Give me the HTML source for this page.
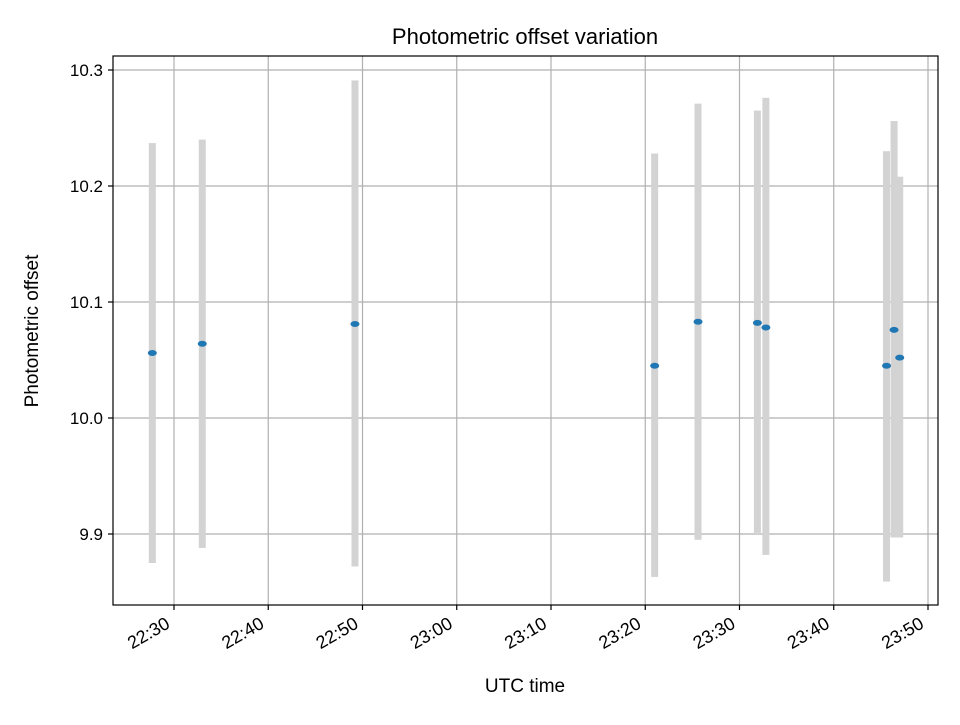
<!DOCTYPE html>
<html><head><meta charset="utf-8"><style>
body{margin:0;background:#fff;}
svg text{font-family:"Liberation Sans","DejaVu Sans",sans-serif;fill:#000;}
</style></head><body>
<svg id="chart" width="960" height="720" xmlns="http://www.w3.org/2000/svg">
<rect width="960" height="720" fill="#fff"/>
<g id="grid"></g><g id="marks"></g><g id="axes"></g>
<rect x="113" y="56" width="825" height="549" fill="none" stroke="#000" stroke-width="1.2"/>
<text x="525" y="44" font-size="22" text-anchor="middle">Photometric offset variation</text>
<text x="525" y="692" font-size="19" text-anchor="middle">UTC time</text>
<text x="38" y="331" font-size="19" text-anchor="middle" transform="rotate(-90 38 331)">Photometric offset</text>
</svg>
<script>
// time in minutes after 22:00
const times=[27.7,33.0,49.2,81.0,85.6,91.9,92.8,105.6,106.4,107.0];
const values=[10.056,10.064,10.081,10.045,10.083,10.082,10.078,10.045,10.076,10.052];
const errTop=[10.237,10.240,10.291,10.228,10.271,10.265,10.276,10.230,10.256,10.208];
const errBottom=[9.875,9.888,9.872,9.863,9.895,9.900,9.882,9.859,9.897,9.897];
const xTicks=[30,40,50,60,70,80,90,100,110];
const xTickLabels=["22:30","22:40","22:50","23:00","23:10","23:20","23:30","23:40","23:50"];
const yTicks=[9.9,10.0,10.1,10.2,10.3];
const yTickLabels=["9.9","10.0","10.1","10.2","10.3"];

const NS="http://www.w3.org/2000/svg";
function xs(m){return 174+(m-30)*(928-174)/80;}
function ys(v){return 418-(v-10.0)*1160;}
function mk(tag,attrs,parent){const e=document.createElementNS(NS,tag);for(const k in attrs)e.setAttribute(k,attrs[k]);parent.appendChild(e);return e;}
const grid=document.getElementById('grid'),marks=document.getElementById('marks'),axes=document.getElementById('axes');
xTicks.forEach((t,i)=>{
  const x=xs(t);
  const g=mk('line',{x1:x,x2:x,y1:56,y2:605,stroke:'#b0b0b0','stroke-width':1.2},grid);
  
  
  const tk=mk('line',{x1:x,x2:x,y1:605,y2:610,stroke:'#000','stroke-width':1.2},axes);
  
  
  const lx=x-3, ly=627;
  const lb=mk('text',{x:lx,y:ly,'font-size':18,'text-anchor':'end',transform:`rotate(-30 ${lx} ${ly})`},axes);
  lb.textContent=xTickLabels[i];
  
  
});
yTicks.forEach((t,i)=>{
  const y=ys(t);
  const g=mk('line',{x1:113,x2:938,y1:y,y2:y,stroke:'#b0b0b0','stroke-width':1.2},grid);
  
  
  const tk=mk('line',{x1:108,x2:113,y1:y,y2:y,stroke:'#000','stroke-width':1.2},axes);
  
  
  const lb=mk('text',{x:103,y:y+6,'font-size':17,'text-anchor':'end'},axes);
  lb.textContent=yTickLabels[i];
  
  
});
times.forEach((t,i)=>{
  const x=xs(t);
  const e=mk('rect',{x:x-3.5,y:ys(errTop[i]),width:7,height:ys(errBottom[i])-ys(errTop[i]),fill:'#d3d3d3'},marks);
  
  
});
times.forEach((t,i)=>{
  const p=mk('ellipse',{cx:xs(t),cy:ys(values[i]),rx:4.5,ry:3,fill:'#1f77b4'},marks);
  
  
});
</script>
</body></html>
